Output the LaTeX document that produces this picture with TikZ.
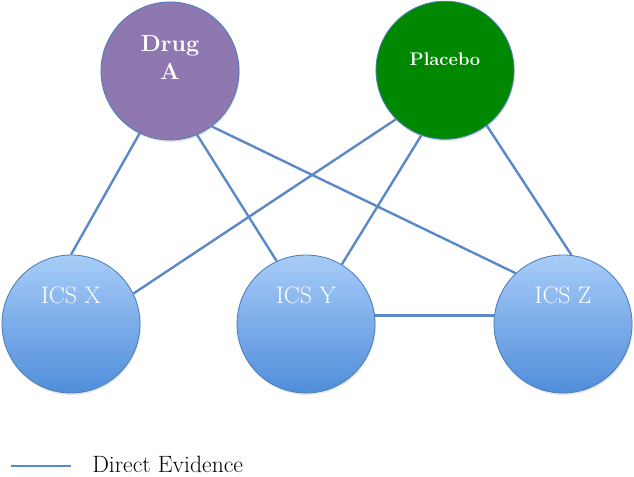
\documentclass[tikz,border=0pt]{standalone}
\usepackage{amsmath, amssymb}
\usepackage{tikz}
\usetikzlibrary{shadows}

\definecolor{drugpurple}{RGB}{143,120,176}
\definecolor{placebogreen}{RGB}{0,136,0}
\definecolor{icstop}{RGB}{168,204,248}
\definecolor{icsbottom}{RGB}{80,142,218}
\definecolor{rimblue}{RGB}{74,126,187}
\definecolor{evidence}{RGB}{89,137,198}

\newcommand{\lift}[2]{\raisebox{#1}[0pt][0pt]{#2}}

\begin{document}
\begin{tikzpicture}
\tikzstyle{treat}=[circle, draw=rimblue, line width=0.6pt, minimum size=3.45cm, inner sep=0cm, text=white, drop shadow={opacity=0.2, shadow xshift=0.02cm, shadow yshift=-0.05cm}]
\tikzstyle{ics}=[treat, top color=icstop, bottom color=icsbottom, font=\fontsize{17}{20}\selectfont]
\tikzstyle{evid}=[draw=evidence, line width=1.7pt]

\useasboundingbox (0,0) rectangle (15.85,11.925);

\node (drugA) at (4.25,10.15) [treat, fill=drugpurple, font=\fontsize{16.5}{20.6}\selectfont\bfseries] {\lift{-0.225cm}{\begin{tabular}[b]{@{}c@{}}Drug\\A\end{tabular}}};
\node (placebo) at (11.125,10.17) [treat, fill=placebogreen, font=\fontsize{13}{15}\selectfont\bfseries] {\lift{0.125cm}{Placebo}};

\node (icsX) at (1.775,3.825) [ics] {\lift{0.52cm}{ICS X}};
\node (icsY) at (7.65,3.825) [ics] {\lift{0.52cm}{ICS Y}};
\node (icsZ) at (14.075,3.825) [ics] {\lift{0.52cm}{ICS Z}};

\draw[evid] (drugA.244) -- (icsX.90);
\draw[evid] (drugA.293) -- (icsY.115);
\draw[evid] (drugA.307) -- (icsZ.133);
\draw[evid] (placebo.225) -- (icsX.26);
\draw[evid] (placebo.250) -- (icsY.59);
\draw[evid] (placebo.307) -- (icsZ.83);
\draw[evid] (icsY.7) -- (icsZ.173);

% legend
\coordinate (legA) at (0.275,0.27);
\coordinate (legB) at (1.775,0.27);
\draw[evid] (legA) -- (legB);
\node (legtext) at (2.3,0.31) [anchor=west, inner sep=0cm, font=\fontsize{16.8}{20}\selectfont] {Direct Evidence};
\end{tikzpicture}
\end{document}
